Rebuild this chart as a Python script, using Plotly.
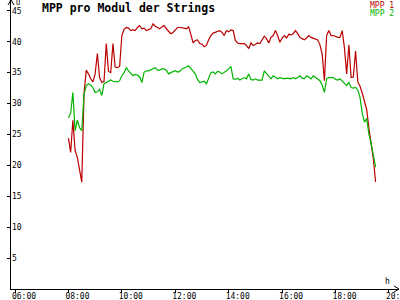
import pandas as pd
import plotly.graph_objects as go

# time stamps (5-minute logger interval, 08:00 .. 19:30)
times = pd.date_range("2024-06-01 08:00", "2024-06-01 19:30", freq="5min")

mpp1 = [24.4, 22.1, 27.3, 22.4, 21.3, 19.5, 17.3, 31.6, 35.4, 34.8,
        34.0, 33.5, 34.8, 38.1, 34.2, 33.4, 33.6, 39.7, 35.2, 35.0,
        39.7, 35.9, 35.8, 36.0, 41.0, 42.0, 42.3, 42.2, 41.8, 41.9,
        41.8, 42.3, 42.6, 42.1, 42.2, 41.8, 41.9, 42.1, 42.9, 42.5,
        42.3, 42.1, 42.4, 42.6, 42.1, 41.7, 41.3, 41.5, 41.9, 42.3,
        42.3, 42.3, 42.2, 42.1, 42.4, 41.2, 39.8, 40.2, 40.3, 39.7,
        39.6, 39.2, 39.4, 40.3, 41.0, 41.4, 41.5, 41.7, 41.8, 41.5,
        41.0, 41.8, 41.6, 41.9, 41.8, 40.2, 39.8, 39.7, 39.7, 39.7,
        39.4, 38.9, 39.8, 39.4, 39.6, 39.8, 39.7, 40.2, 40.9, 40.5,
        39.8, 40.7, 41.0, 41.8, 41.0, 39.9, 40.6, 41.0, 40.6, 41.2,
        41.1, 41.3, 41.8, 41.3, 40.7, 40.5, 40.3, 40.6, 41.0, 40.7,
        40.6, 40.5, 40.3, 39.5, 38.0, 33.7, 41.0, 41.8, 41.0, 41.0,
        40.8, 40.7, 40.7, 41.8, 39.0, 34.8, 39.5, 34.2, 34.3, 38.5,
        33.5, 32.8, 31.7, 30.5, 29.0, 26.0, 23.5, 21.0, 17.3]

mpp2 = [27.7, 28.4, 31.8, 25.6, 27.3, 26.1, 25.6, 31.5, 32.9, 33.2,
        33.0, 32.6, 31.8, 31.9, 32.3, 31.3, 33.2, 33.4, 33.7, 33.8,
        33.6, 33.5, 33.5, 33.7, 34.5, 35.0, 35.8, 35.3, 34.8, 34.5,
        34.7, 34.6, 34.3, 33.4, 35.1, 35.3, 35.3, 35.5, 35.7, 35.8,
        35.4, 35.4, 35.6, 35.6, 35.4, 34.8, 35.0, 35.1, 35.3, 35.1,
        35.2, 35.6, 35.7, 35.9, 36.1, 35.6, 35.3, 34.8, 33.9, 33.4,
        33.5, 33.6, 33.2, 34.0, 35.0, 35.1, 34.8, 35.2, 35.1, 34.8,
        35.0, 35.3, 35.6, 36.0, 34.0, 33.9, 34.1, 33.8, 34.0, 34.2,
        34.0, 34.8, 33.9, 33.8, 34.0, 33.8, 33.8, 33.8, 35.3, 34.8,
        34.3, 34.0, 34.5, 34.2, 34.0, 34.2, 34.1, 34.0, 34.1, 34.0,
        34.0, 34.2, 34.0, 34.2, 34.5, 34.1, 34.0, 34.5, 34.2, 34.0,
        34.5, 34.2, 34.0, 33.7, 33.0, 31.8, 34.0, 34.2, 34.2, 34.2,
        33.9, 33.8, 34.0, 33.6, 33.3, 32.9, 33.4, 32.6, 32.5, 32.6,
        32.2, 31.0, 28.4, 27.0, 27.6, 25.0, 23.5, 21.5, 19.7]

series_names = ["MPP 1", "MPP 2"]
series_colors = ["#bb0000", "#00b400"]
series_axes = ["y", "y2"]   # both axes share the same range
x_tickvals = ["2024-06-01 06:00", "2024-06-01 08:00", "2024-06-01 10:00",
              "2024-06-01 12:00", "2024-06-01 14:00", "2024-06-01 16:00",
              "2024-06-01 18:00", "2024-06-01 20:00"]
x_ticktext = ["06:00", "08:00", "10:00", "12:00", "14:00", "16:00", "18:00", "20:00"]
y_tickvals = [5, 10, 15, 20, 25, 30, 35, 40, 45]
y_range = [0, 46.75]
title_text = "MPP pro Modul der Strings"

FONT = "DejaVu Sans Mono"
TICKFONT = dict(family=FONT, size=8, color="black")

fig = go.Figure()
for name, vals, col, ya in zip(series_names, [mpp1, mpp2], series_colors, series_axes):
    fig.add_trace(go.Scatter(x=times, y=vals, mode="lines", name=name, yaxis=ya,
                             line=dict(color=col, width=1.2)))

fig.update_layout(
    width=400, height=300,
    margin=dict(l=11, r=1, t=0, b=11, autoexpand=False),
    paper_bgcolor="white", plot_bgcolor="white",
    showlegend=False,
    font=dict(family=FONT, size=8, color="black"),
    xaxis=dict(
        type="date", automargin=False,
        range=["2024-06-01 05:51:00", "2024-06-01 20:22:34"],
        tickmode="array", tickvals=x_tickvals, ticktext=x_ticktext,
        ticks="outside", ticklen=3, tickcolor="black",
        showline=True, linecolor="black", linewidth=1,
        showgrid=False, zeroline=False,
        ticklabelshift=9, ticklabelstandoff=-4,
        ticklabeloverflow="allow",
        tickfont=TICKFONT,
    ),
    yaxis=dict(
        range=y_range, automargin=False,
        tickmode="array", tickvals=y_tickvals,
        ticks="outside", ticklen=3, tickcolor="black",
        showline=True, linecolor="black", linewidth=1,
        showgrid=False, zeroline=False,
        showticklabels=False,
    ),
    # label-only axis placed on the left edge, labels drawn to its right
    yaxis2=dict(
        range=y_range, automargin=False,
        overlaying="y", side="right", anchor="free", position=0,
        tickmode="array", tickvals=y_tickvals,
        ticks="", showline=False, showgrid=False, zeroline=False,
        ticklabeloverflow="allow",
        tickfont=TICKFONT,
    ),
)

W, H = 388.0, 289.0
ann = []
ann.append(dict(text="<b>" + title_text + "</b>", xref="paper", yref="paper",
                x=(40 - 11) / W, y=1 - 8 / H, xanchor="left", yanchor="middle",
                showarrow=False, font=dict(family=FONT, size=11.5, color="black")))
ann.append(dict(text="U", xref="paper", yref="paper", x=(15 - 11) / W, y=1 + 2 / H,
                xanchor="left", yanchor="top", showarrow=False, borderpad=0,
                font=dict(family=FONT, size=7, color="black")))
ann.append(dict(text="h", xref="paper", yref="paper", x=(387.5 - 11) / W, y=8 / H,
                xanchor="center", yanchor="middle", showarrow=False,
                font=dict(family=FONT, size=8, color="black")))
for k, (name, col) in enumerate(zip(series_names, series_colors)):
    ann.append(dict(text=name, xref="paper", yref="paper",
                    x=(395 - 11) / W, y=1 - (5 + 8 * k) / H,
                    xanchor="right", yanchor="middle", showarrow=False, borderpad=0,
                    font=dict(family=FONT, size=8, color=col)))
fig.update_layout(annotations=ann)

# axis arrowheads
fig.add_shape(type="path", xref="paper", yref="paper",
              path=f"M {-3/W},{1-5/H} L 0,1 L {3/W},{1-5/H}",
              line=dict(color="black", width=1))
fig.add_shape(type="path", xref="paper", yref="paper",
              path=f"M {1-5/W},{3/H} L 1,0 L {1-5/W},{-3/H}",
              line=dict(color="black", width=1))

fig.write_html("out.html", config={"displayModeBar": False})
